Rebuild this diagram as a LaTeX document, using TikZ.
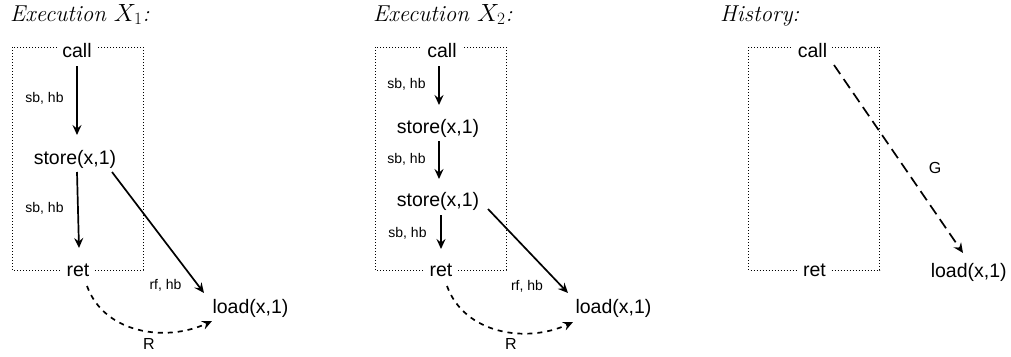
\documentclass[tikz,border=0pt]{standalone}
\usepackage{fontspec}
\setsansfont{Liberation Sans}
\usetikzlibrary{arrows.meta}
\begin{document}
\begin{tikzpicture}[x=1pt, y=-1pt,
  ev/.style={font=\sffamily\fontsize{19.5}{22}\selectfont, anchor=base, inner sep=0pt, text height=14pt, text depth=4pt},
  evb/.style={ev, fill=white, inner xsep=5pt},
  lbl/.style={font=\sffamily\fontsize{14}{16}\selectfont, anchor=base, inner sep=0pt},
  biglbl/.style={lbl, font=\sffamily\fontsize{16}{18}\selectfont},
  ttl/.style={font=\itshape\fontsize{23}{27}\selectfont, anchor=base west, inner sep=0pt},
  arr/.style={line width=1.7pt, -{Stealth[length=10pt,width=9pt,inset=3.5pt]}},
  rarr/.style={arr, dash pattern=on 5pt off 5pt},
  garr/.style={arr, dash pattern=on 11pt off 6pt},
  grp/.style={line width=0.9pt, dash pattern=on 1pt off 2pt},
]
\useasboundingbox (0,0) rectangle (1011,356);

% ---------- first execution ----------
\node[ttl] (t1) at (10,21) {Execution $X_1$:};
\draw[grp] (12,47) rectangle (143,270);
\node[evb] (c1) at (77,57) {call};
\node[ev]  (s1) at (75,164) {store(x,1)};
\node[evb] (r1) at (78,276) {ret};
\node[ev]  (l1) at (250.5,313) {load(x,1)};
\node[lbl] (e1a) at (44.5,102) {sb, hb};
\node[lbl] (e1b) at (44.5,212) {sb, hb};
\node[lbl] (e1c) at (165.5,289) {rf, hb};
\node[biglbl] (e1d) at (149,349) {R};
\draw[arr] ([yshift=-9pt]c1.base) -- ([shift={(2pt,29pt)}]s1.base);
\draw[arr] ([shift={(2pt,-8pt)}]s1.base) -- ([shift={(1pt,28pt)}]r1.base);
\draw[arr] ([shift={(37pt,-8pt)}]s1.base) -- ([shift={(-46.5pt,20pt)}]l1.base);
\draw[rarr] ([shift={(9pt,-10pt)}]r1.base) to[out=-70,in=205] ([shift={(-38.5pt,-8pt)}]l1.base);

% ---------- second execution ----------
\node[ttl] (t2) at (373,21) {Execution $X_2$:};
\draw[grp] (375,47) rectangle (506,270);
\node[evb] (c2)  at (442,57) {call};
\node[ev]  (s2a) at (438,133) {store(x,1)};
\node[ev]  (s2b) at (438,206) {store(x,1)};
\node[evb] (r2)  at (441,276) {ret};
\node[ev]  (l2)  at (613.5,313) {load(x,1)};
\node[lbl] (e2a) at (406.5,88) {sb, hb};
\node[lbl] (e2b) at (406.5,163) {sb, hb};
\node[lbl] (e2c) at (407.5,237) {sb, hb};
\node[lbl] (e2d) at (527,290) {rf, hb};
\node[biglbl] (e2e) at (511,349) {R};
\draw[arr] ([shift={(-3pt,-9pt)}]c2.base) -- ([shift={(1pt,28pt)}]s2a.base);
\draw[arr] ([shift={(1pt,-8pt)}]s2a.base) -- ([shift={(1pt,27pt)}]s2b.base);
\draw[arr] ([shift={(3pt,-9pt)}]s2b.base) -- ([yshift=27pt]r2.base);
\draw[arr] ([shift={(50pt,-3pt)}]s2b.base) -- ([shift={(-45.5pt,20pt)}]l2.base);
\draw[rarr] ([shift={(6pt,-10pt)}]r2.base) to[out=-70,in=205] ([shift={(-40.5pt,-9pt)}]l2.base);

% ---------- history ----------
\node[ttl] (t3) at (720,21) {History:};
\draw[grp] (748.5,47) rectangle (879.5,270);
\node[evb] (c3) at (812.5,57) {call};
\node[evb] (r3) at (814.5,276) {ret};
\node[ev]  (l3) at (968.7,277) {load(x,1)};
\node[biglbl] (e3a) at (935,173) {G};
\draw[garr] ([shift={(21.5pt,-8pt)}]c3.base) -- ([shift={(-5.7pt,24pt)}]l3.base);
\end{tikzpicture}
\end{document}
